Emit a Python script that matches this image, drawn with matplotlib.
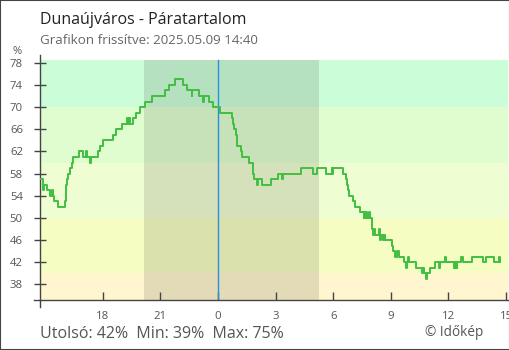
import matplotlib
matplotlib.use("Agg")
import matplotlib.pyplot as plt
from matplotlib.patches import Rectangle

plt.rcParams['font.family'] = ['Open Sans', 'DejaVu Sans']

# humidity readings: hours relative to midnight, value holds until the next entry
hours = [-9.33, -9.11, -9.07, -8.90, -8.73, -8.62, -8.58, -8.54, -8.33, -7.95,
         -7.90, -7.85, -7.80, -7.73, -7.60, -7.53, -7.25, -7.05, -6.86, -6.82,
         -6.66, -6.62, -6.25, -6.12, -6.00, -5.47, -5.30, -4.98, -4.72, -4.68,
         -4.62, -4.58, -4.44, -4.27, -4.06, -3.80, -3.45, -2.76, -2.53, -2.22,
         -1.81, -1.63, -1.38, -1.34, -0.99, -0.78, -0.74, -0.45, -0.24, 0.12,
         0.71, 0.80, 0.85, 0.92, 0.97, 1.01, 1.18, 1.23, 1.60, 1.84,
         1.89, 2.05, 2.09, 2.27, 2.76, 3.14, 3.35, 3.39, 4.32, 4.97,
         5.14, 5.61, 5.92, 5.96, 6.00, 6.50, 6.67, 6.74, 6.79, 6.84,
         7.01, 7.14, 7.40, 7.58, 7.62, 7.67, 7.71, 7.74, 7.86, 7.90,
         8.00, 8.08, 8.12, 8.18, 8.37, 8.41, 8.47, 8.57, 8.64, 8.68,
         9.05, 9.13, 9.22, 9.31, 9.44, 9.69, 9.79, 9.83, 9.90, 9.94,
         10.30, 10.64, 10.68, 10.75, 10.82, 10.87, 11.04, 11.30, 11.53, 11.58,
         11.80, 11.85, 12.29, 12.32, 12.34, 12.37, 12.42, 12.45, 12.65, 12.75,
         13.21, 13.79, 13.96, 14.38, 14.62, 14.66, 14.67]
humidity = [57, 55, 56, 55, 54, 55, 54, 53, 52, 53,
            56, 57, 58, 59, 60, 61, 62, 61, 62, 61,
            60, 61, 62, 63, 64, 65, 66, 67, 68, 67,
            68, 67, 68, 69, 70, 71, 72, 73, 74, 75,
            74, 73, 72, 73, 72, 71, 72, 71, 70, 69,
            68, 67, 66, 65, 64, 63, 62, 61, 60, 58,
            57, 56, 57, 56, 57, 58, 57, 58, 59, 58,
            59, 58, 59, 58, 59, 58, 57, 56, 55, 54,
            53, 52, 51, 50, 51, 50, 51, 50, 51, 50,
            48, 47, 48, 47, 48, 46, 47, 46, 47, 46,
            45, 44, 43, 44, 43, 42, 41, 42, 43, 42,
            41, 40, 41, 40, 39, 40, 41, 42, 41, 42,
            43, 42, 41, 42, 41, 42, 41, 42, 43, 42,
            43, 42, 43, 42, 43, 42, 42]

tick_hours = [-6, -3, 0, 3, 6, 9, 12, 15]
tick_labels = ['18', '21', '0', '3', '6', '9', '12', '15']
y_ticks = [38, 42, 46, 50, 54, 58, 62, 66, 70, 74, 78]

# background bands: (lower, upper, colour)
band_edges = [35.2, 40, 50, 60, 70, 78.5]
band_colors = ['#fff6cf', '#f6fdc2', '#effdd2', '#e0fdd0', '#ccfdd9']

night_start, night_end = -3.85, 5.26
x_lo, x_hi = -9.27, 15.1
y_lo, y_hi = 35.2, 79.4

fig = plt.figure(figsize=(5.1, 3.5), dpi=100)
ax = fig.add_axes([40 / 510, 50 / 350, 468 / 510, 245 / 350])

for lo, hi, c in zip(band_edges[:-1], band_edges[1:], band_colors):
    ax.fill_between([x_lo, x_hi], lo, hi, color=c, lw=0, zorder=0)

ax.fill_between([night_start, night_end], y_lo, band_edges[-1],
                color='black', alpha=0.11, lw=0, zorder=1)
ax.plot([0, 0], [y_lo, band_edges[-1]], color='#2b8fe0', lw=1.0, zorder=2)

ax.step(hours, humidity, where='post', color='#41bf41', lw=1.4, zorder=3)

ax.set_xlim(x_lo, x_hi)
ax.set_ylim(y_lo, y_hi)
ax.set_facecolor('white')
for s in ['top', 'right']:
    ax.spines[s].set_visible(False)
for s in ['left', 'bottom']:
    ax.spines[s].set_color('#444444')
    ax.spines[s].set_linewidth(1.0)

# small extensions of the axis lines past the corner
ax.plot([x_lo, x_lo], [y_lo, y_lo - 7 / 5.55], color='#444444', lw=1.0, clip_on=False)
ax.plot([x_lo - 6 / 19.2, x_lo], [y_lo, y_lo], color='#444444', lw=1.0, clip_on=False)

ax.set_yticks(y_ticks)
ax.set_xticks(tick_hours)
ax.set_xticklabels(tick_labels)
ax.tick_params(axis='y', direction='inout', length=8.6, width=1.0, color='#444444',
               labelcolor='#555555', labelsize=8.2, pad=8)
ax.tick_params(axis='x', direction='in', length=5.5, width=1.0, color='#444444',
               labelcolor='#555555', labelsize=8.2, pad=8)

fig.text(17 / 510, 1 - 51 / 350, '%', fontsize=8, color='#555555', ha='center', va='center')

fig.text(40 / 510, 1 - 24.5 / 350, 'Dunaújváros - Páratartalom', fontsize=11.5,
         color='#222222', va='baseline')
fig.text(40 / 510, 1 - 44.3 / 350, 'Grafikon frissítve: 2025.05.09 14:40', fontsize=9.6,
         color='#666666', va='baseline')
fig.text(40 / 510, 11.7 / 350, 'Utolsó: 42%  Min: 39%  Max: 75%', fontsize=11.5,
         color='#555555', va='baseline')
fig.text(425 / 510, 14 / 350, '© Időkép', fontsize=9.8, color='#555555', va='baseline')

fig.patches.append(Rectangle((0, 0), 1, 1, transform=fig.transFigure, fill=False,
                             edgecolor='#444444', lw=1.5))

fig.savefig('out.png', dpi=100)
